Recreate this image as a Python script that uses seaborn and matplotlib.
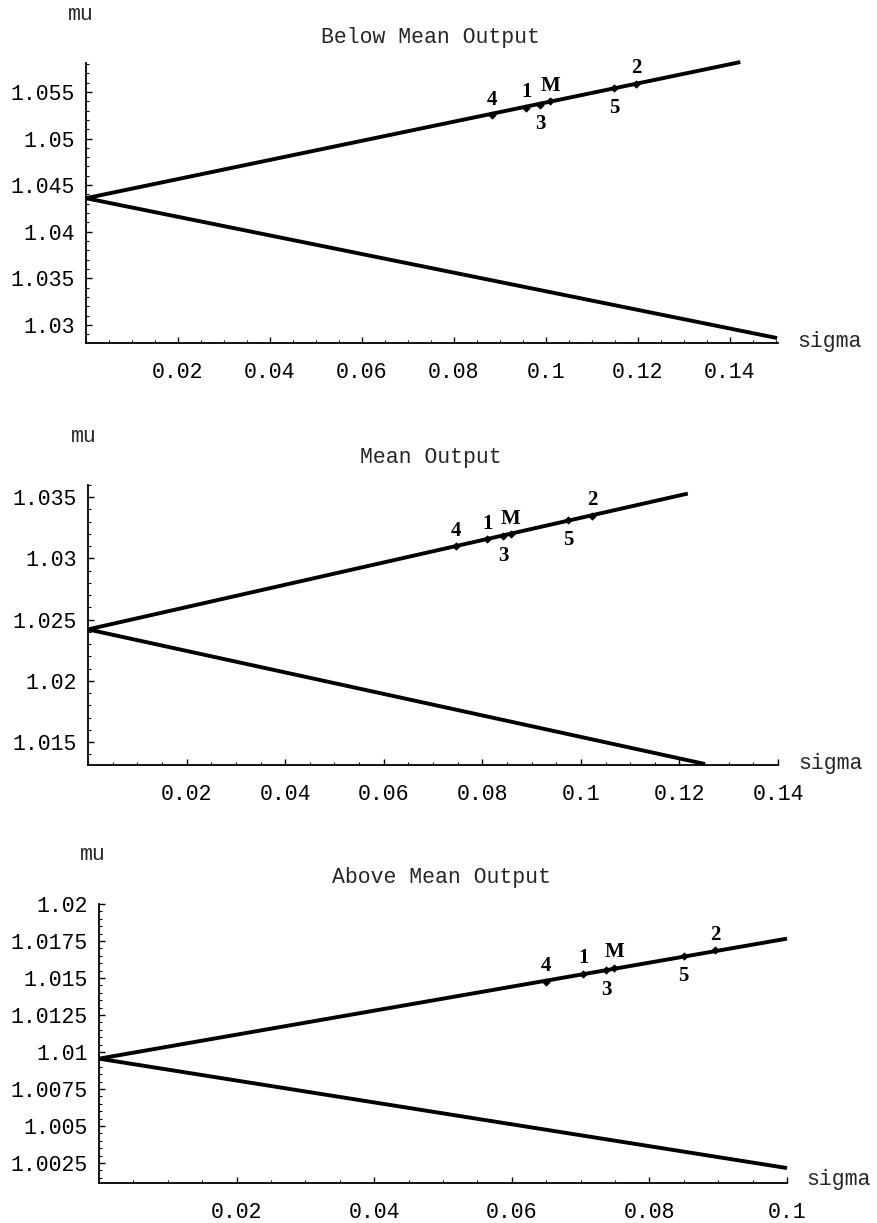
import numpy as np
import pandas as pd
import matplotlib
matplotlib.use("Agg")
import matplotlib.pyplot as plt
from matplotlib.ticker import FixedLocator, AutoMinorLocator
import seaborn as sns

# ---------------- data ----------------
panel_titles = ["Below Mean Output", "Mean Output", "Above Mean Output"]

# frontier: both branches start at sigma=0
origin_mu = [1.0436, 1.0242, 1.00955]
upper_end_sigma = [0.1423, 0.1217, 0.1000]
upper_end_mu = [1.0582, 1.0353, 1.01766]
lower_end_sigma = [0.1503, 0.1252, 0.1000]
lower_end_mu = [1.0286, 1.0132, 1.00216]

point_labels = ["4", "1", "3", "M", "5", "2"]
point_sigma_1 = [0.0882, 0.0958, 0.0988, 0.1010, 0.1148, 0.1197]
point_mu_1 = [1.0525, 1.0533, 1.0536, 1.0540, 1.0554, 1.0559]
point_sigma_2 = [0.0746, 0.0810, 0.0843, 0.0858, 0.0974, 0.1023]
point_mu_2 = [1.0310, 1.0316, 1.0318, 1.0320, 1.0331, 1.0335]
point_sigma_3 = [0.0649, 0.0704, 0.0737, 0.0749, 0.0850, 0.0896]
point_mu_3 = [1.01476, 1.01530, 1.01552, 1.01570, 1.01647, 1.01686]

xtick_values_1 = [0.02, 0.04, 0.06, 0.08, 0.10, 0.12, 0.14]
xtick_labels_1 = ["0.02", "0.04", "0.06", "0.08", "0.1", "0.12", "0.14"]
xtick_values_2 = [0.02, 0.04, 0.06, 0.08, 0.10, 0.12, 0.14]
xtick_labels_2 = ["0.02", "0.04", "0.06", "0.08", "0.1", "0.12", "0.14"]
xtick_values_3 = [0.02, 0.04, 0.06, 0.08, 0.10]
xtick_labels_3 = ["0.02", "0.04", "0.06", "0.08", "0.1"]

ytick_values_1 = [1.03, 1.035, 1.04, 1.045, 1.05, 1.055]
ytick_labels_1 = ["1.03", "1.035", "1.04", "1.045", "1.05", "1.055"]
ytick_values_2 = [1.015, 1.02, 1.025, 1.03, 1.035]
ytick_labels_2 = ["1.015", "1.02", "1.025", "1.03", "1.035"]
ytick_values_3 = [1.0025, 1.005, 1.0075, 1.01, 1.0125, 1.015, 1.0175, 1.02]
ytick_labels_3 = ["1.0025", "1.005", "1.0075", "1.01", "1.0125", "1.015", "1.0175", "1.02"]

x_limits = [(0, 0.1505), (0, 0.14), (0, 0.10)]
y_limits = [(1.02807, 1.0581), (1.01312, 1.0360), (1.00115, 1.0200)]

# ---------------- style ----------------
sns.set_theme(style="white")
mono = "Liberation Mono"
serif = "Liberation Serif"
plt.rcParams["font.family"] = [mono, "DejaVu Sans"]

W, H = 877, 1223
fig = plt.figure(figsize=(W / 100, H / 100), dpi=100)

# axes rectangles in pixels: left, right, top, bottom
rects = [(86, 778, 63, 343), (88, 778, 485, 765), (99, 787, 904, 1183)]
mu_pos = [(81, 15), (84, 437), (93, 855)]
title_pos = [(430, 38), (431, 458), (441, 877)]
sigma_pos = [(797, 342), (798, 763), (806, 1180)]

point_sigmas = [point_sigma_1, point_sigma_2, point_sigma_3]
point_mus = [point_mu_1, point_mu_2, point_mu_3]
xtv = [xtick_values_1, xtick_values_2, xtick_values_3]
xtl = [xtick_labels_1, xtick_labels_2, xtick_labels_3]
ytv = [ytick_values_1, ytick_values_2, ytick_values_3]
ytl = [ytick_labels_1, ytick_labels_2, ytick_labels_3]
y_minor = [5, 5, 5]
label_side = {"4": "above", "1": "above", "3": "below", "M": "above", "5": "below", "2": "above"}

for i in range(3):
    l, r, t, b = rects[i]
    ax = fig.add_axes([l / W, 1 - b / H, (r - l) / W, (b - t) / H])
    ax.set_facecolor("white")

    upper = pd.DataFrame({"sigma": [0.0, upper_end_sigma[i]], "mu": [origin_mu[i], upper_end_mu[i]]})
    lower = pd.DataFrame({"sigma": [0.0, lower_end_sigma[i]], "mu": [origin_mu[i], lower_end_mu[i]]})
    for df in (upper, lower):
        sns.lineplot(data=df, x="sigma", y="mu", ax=ax, color="black", lw=2.8,
                     sort=False, estimator=None, clip_on=False, solid_capstyle="butt")

    pts = pd.DataFrame({"sigma": point_sigmas[i], "mu": point_mus[i], "label": point_labels})
    sns.scatterplot(data=pts, x="sigma", y="mu", ax=ax, marker="D", s=14,
                    color="black", edgecolor="black", linewidth=0.5, zorder=5)
    for _, row in pts.iterrows():
        dy = 11 if label_side[row["label"]] == "above" else -14
        ax.annotate(row["label"], (row["sigma"], row["mu"]), xytext=(0, dy),
                    textcoords="offset points", ha="center", va="center",
                    fontsize=15, fontweight="bold", family=serif, color="black")

    ax.set_xlim(*x_limits[i])
    ax.set_ylim(*y_limits[i])
    ax.set_xlabel("")
    ax.set_ylabel("")
    for s in ("top", "right"):
        ax.spines[s].set_visible(False)
    for s in ("left", "bottom"):
        ax.spines[s].set_color("black")
        ax.spines[s].set_linewidth(1.3)

    ax.xaxis.set_major_locator(FixedLocator(xtv[i]))
    ax.set_xticklabels(xtl[i])
    ax.yaxis.set_major_locator(FixedLocator(ytv[i]))
    ax.set_yticklabels(ytl[i])
    ax.xaxis.set_minor_locator(AutoMinorLocator(4))
    ax.yaxis.set_minor_locator(AutoMinorLocator(y_minor[i]))
    ax.tick_params(axis="both", which="major", direction="in", length=4.5, width=1.0,
                   colors="black", labelsize=15.5)
    ax.tick_params(axis="both", which="minor", direction="in", length=2.2, width=0.8,
                   colors="black")
    ax.tick_params(axis="x", which="major", pad=14, bottom=True)
    ax.tick_params(axis="x", which="minor", bottom=True)
    ax.tick_params(axis="y", which="major", pad=8, left=True)
    ax.tick_params(axis="y", which="minor", left=True)
    for lab in ax.get_xticklabels() + ax.get_yticklabels():
        lab.set_family(mono)

    fig.text(mu_pos[i][0] / W, 1 - mu_pos[i][1] / H, "mu", ha="center", va="center",
             fontsize=15.5, family=mono)
    fig.text(title_pos[i][0] / W, 1 - title_pos[i][1] / H, panel_titles[i], ha="center",
             va="center", fontsize=15.5, family=mono)
    fig.text(sigma_pos[i][0] / W, 1 - sigma_pos[i][1] / H, "sigma", ha="left", va="center",
             fontsize=15.5, family=mono)

fig.savefig("out.png", dpi=100, facecolor="white")
